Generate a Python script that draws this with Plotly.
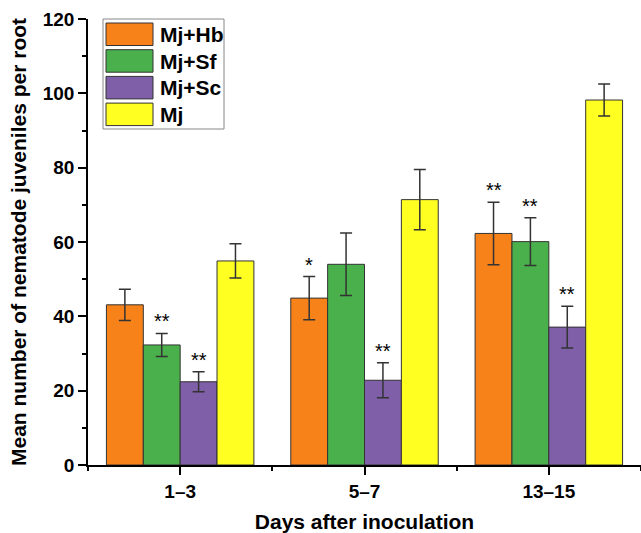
import plotly.graph_objects as go

categories = ["1–3", "5–7", "13–15"]
series_names = ["Mj+Hb", "Mj+Sf", "Mj+Sc", "Mj"]
means = {
    "Mj+Hb": [43.1, 44.9, 62.3],
    "Mj+Sf": [32.3, 54.0, 60.1],
    "Mj+Sc": [22.4, 22.8, 37.1],
    "Mj": [54.9, 71.4, 98.2],
}
errors = {
    "Mj+Hb": [4.2, 5.8, 8.4],
    "Mj+Sf": [3.1, 8.4, 6.4],
    "Mj+Sc": [2.7, 4.7, 5.6],
    "Mj": [4.6, 8.1, 4.3],
}
signif = {
    "Mj+Hb": ["", "*", "**"],
    "Mj+Sf": ["**", "", "**"],
    "Mj+Sc": ["**", "**", "**"],
    "Mj": ["", "", ""],
}
colors = {
    "Mj+Hb": "#F8821A",
    "Mj+Sf": "#4AB04C",
    "Mj+Sc": "#7F5FA8",
    "Mj": "#FFFF22",
}

FONT = "Liberation Sans, Arial, sans-serif"
xpos = list(range(len(categories)))

fig = go.Figure()
for name in series_names:
    fig.add_trace(go.Bar(
        x=xpos, y=means[name], name=name,
        marker=dict(color=colors[name], line=dict(color="#333333", width=1)),
        error_y=dict(type="data", array=errors[name], color="#333333",
                     thickness=1.5, width=6),
        showlegend=False,
    ))

fig.update_layout(
    barmode="group", bargap=0.2, bargroupgap=0,
    width=641, height=533,
    margin=dict(l=88, r=0, t=19, b=68),
    plot_bgcolor="white", paper_bgcolor="white",
    font=dict(family=FONT, color="black"),
)

# significance stars above error bars
ngroups = len(series_names)
bw = 0.8 / ngroups
for i, name in enumerate(series_names):
    for j, s in enumerate(signif[name]):
        if s:
            fig.add_annotation(
                x=xpos[j] - 0.4 + bw * (i + 0.5), y=means[name][j] + errors[name][j],
                text=s, showarrow=False, yanchor="bottom", yshift=-1,
                font=dict(size=20, family=FONT, color="black"),
            )

fig.update_xaxes(
    range=[-0.5, 2.5], tickvals=xpos, ticktext=categories,
    showline=True, linecolor="black", linewidth=1.5,
    ticks="outside", ticklen=8, tickwidth=1.5, tickcolor="black",
    minor=dict(dtick=0.5, tick0=0.5, ticks="outside", ticklen=4, tickwidth=1.5, tickcolor="black"),
    tickfont=dict(size=19, family=FONT, color="black", weight="bold"),
    title=dict(text="<b>Days after inoculation</b>", font=dict(size=21, family=FONT), standoff=14),
    showgrid=False, zeroline=False,
)
fig.update_yaxes(
    range=[0, 120], dtick=20,
    showline=True, linecolor="black", linewidth=1.5,
    ticks="outside", ticklen=8, tickwidth=1.5, tickcolor="black",
    minor=dict(dtick=10, ticks="outside", ticklen=4, tickwidth=1.5, tickcolor="black"),
    tickfont=dict(size=19, family=FONT, color="black", weight="bold"),
    title=dict(text="<b>Mean number of nematode juveniles per root</b>", font=dict(size=21, family=FONT), standoff=10),
    showgrid=False, zeroline=False,
)

# custom legend (large swatches)
lx0, lx1 = 103, 224
ly0, ly1 = 19, 129
W, H = 641, 533
pw = W - 88
ph = H - 19 - 68
def px(xp):
    return (xp - 88) / pw
def py(yp):
    return 1 - (yp - 19) / ph
fig.add_shape(type="rect", xref="paper", yref="paper",
              x0=px(lx0), x1=px(lx1), y0=py(ly1), y1=py(ly0),
              line=dict(color="#888888", width=1), fillcolor="white")
row_h = 26.7
for k, name in enumerate(series_names):
    top = 23 + k * row_h
    fig.add_shape(type="rect", xref="paper", yref="paper",
                  x0=px(106), x1=px(153), y0=py(top + 22.5), y1=py(top),
                  line=dict(color="#333333", width=1), fillcolor=colors[name])
    fig.add_annotation(xref="paper", yref="paper", x=px(158), y=py(top + 11.5),
                       xanchor="left", yanchor="middle", showarrow=False,
                       text="<b>" + name + "</b>",
                       font=dict(size=21, family=FONT, color="black"))

fig.write_html("out.html")
